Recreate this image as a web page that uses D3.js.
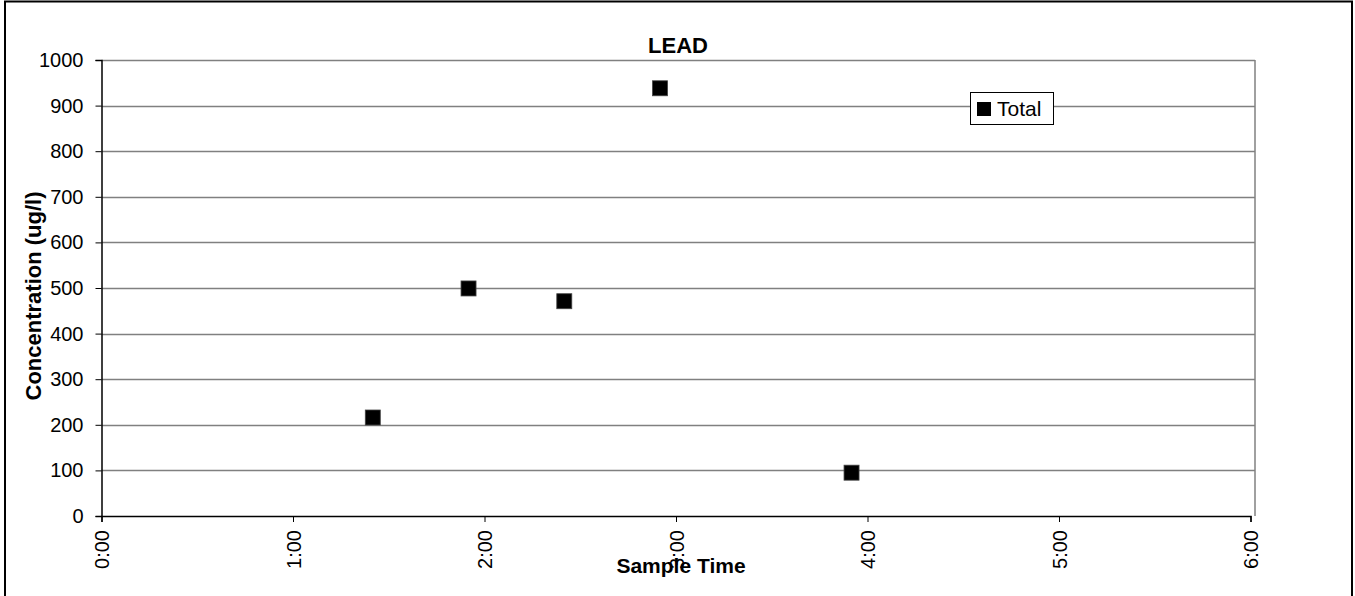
<!DOCTYPE html>
<html><head><meta charset="utf-8">
<script src="https://cdn.jsdelivr.net/npm/d3@7"></script>
<style>body{margin:0;background:#fff;} text{font-family:"Liberation Sans",Arial,sans-serif;}</style>
</head><body>
<svg id="c" width="1355" height="596"></svg>
<script>
const sampleTimes = ["1:25","1:55","2:25","2:55","3:55"];
const totalValues = [216, 499, 471, 938, 95];
const xTickLabels = ["0:00","1:00","2:00","3:00","4:00","5:00","6:00"];
const yTickValues = [0,100,200,300,400,500,600,700,800,900,1000];
const seriesName = "Total";
const chartTitle = "LEAD";
const xTitle = "Sample Time";
const yTitle = "Concentration (ug/l)";

const toMin = s => { const [h,m] = s.split(":").map(Number); return h*60+m; };
const svg = d3.select("#c");
const L = 101.5, T = 60, B = 516, R = 1255;
const x = d3.scaleLinear().domain([0, 360]).range([L, 1250.5]);
const y = d3.scaleLinear().domain([0, 1000]).range([B, T]);
const FF = "Liberation Sans, Arial, sans-serif";

// outer border
svg.append("rect").attr("x",5).attr("y",1.5).attr("width",1347).attr("height",600)
  .attr("fill","none").attr("stroke","#000").attr("stroke-width",2);

// gridlines
svg.append("g").selectAll("line").data(yTickValues.filter(v=>v>0)).join("line")
  .attr("x1",L).attr("x2",R).attr("y1",d=>Math.round(y(d))+0.5).attr("y2",d=>Math.round(y(d))+0.5)
  .attr("stroke","#808080").attr("stroke-width",1.3);
// right frame
svg.append("line").attr("x1",R).attr("x2",R).attr("y1",T).attr("y2",B).attr("stroke","#808080").attr("stroke-width",1.5);

// y axis
const ya = d3.axisLeft(y).tickValues(yTickValues).tickFormat(d3.format("d")).tickSize(6).tickPadding(12);
const yg = svg.append("g").attr("transform",`translate(${L},0)`).call(ya);
yg.select(".domain").attr("stroke","#000").attr("stroke-width",1.5);
yg.selectAll(".tick line").attr("stroke","#000");
yg.selectAll("text").attr("font-size",20).attr("fill","#000").attr("font-family",FF);

// x axis
const xa = d3.axisBottom(x).tickValues(xTickLabels.map(toMin)).tickFormat((d,i)=>xTickLabels[i]).tickSize(6);
const xg = svg.append("g").attr("transform",`translate(0,${B})`).call(xa);
xg.select(".domain").attr("stroke","#000").attr("stroke-width",1.5);
xg.selectAll(".tick line").attr("stroke","#000");
xg.selectAll("text").attr("font-size",20).attr("fill","#000").attr("font-family",FF)
  .attr("transform","rotate(-90)").attr("text-anchor","end").attr("x",-14).attr("y",0).attr("dy","0.35em");

// points
const pts = sampleTimes.map((t,i)=>({t:toMin(t), v:totalValues[i]}));
svg.append("g").selectAll("rect").data(pts).join("rect")
  .attr("x",d=>x(d.t)-7.5).attr("y",d=>y(d.v)-7.5).attr("width",15).attr("height",15)
  .attr("fill","#000").attr("stroke","#444").attr("stroke-width",0.8);

// title
svg.append("text").attr("x",678).attr("y",53).attr("text-anchor","middle")
  .attr("font-size",22).attr("font-weight","bold").text(chartTitle);
// x title
svg.append("text").attr("x",681).attr("y",573).attr("text-anchor","middle")
  .attr("font-size",21).attr("font-weight","bold").text(xTitle);
// y title
svg.append("text").attr("transform","translate(41,296) rotate(-90)").attr("text-anchor","middle")
  .attr("font-size",22).attr("font-weight","bold").text(yTitle);

// legend
const lg = svg.append("g");
lg.append("rect").attr("x",970.5).attr("y",92.5).attr("width",83).attr("height",32)
  .attr("fill","#fff").attr("stroke","#000").attr("stroke-width",1);
lg.append("rect").attr("x",977).attr("y",102).attr("width",14).attr("height",14).attr("fill","#000");
lg.append("text").attr("x",997).attr("y",116).attr("font-size",21).text(seriesName);
</script>
</body></html>
